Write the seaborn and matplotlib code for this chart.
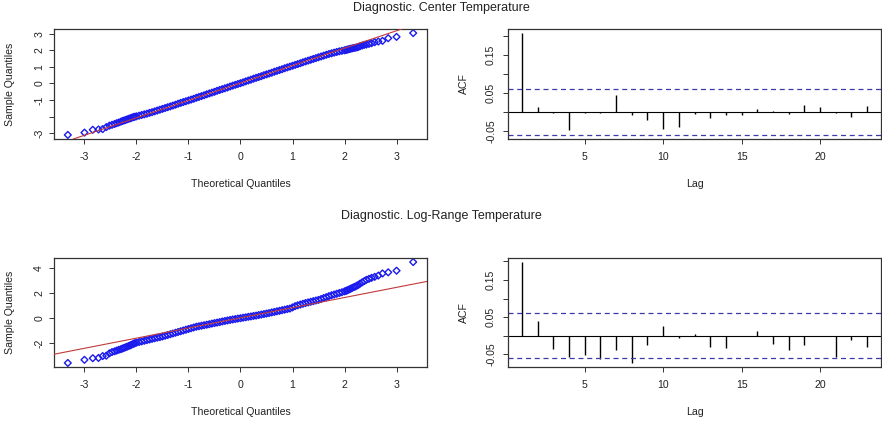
import numpy as np
import pandas as pd
import matplotlib
matplotlib.use("Agg")
import matplotlib.pyplot as plt
import seaborn as sns

# ---------------- data ----------------
title_center = "Diagnostic. Center Temperature"
title_logrange = "Diagnostic. Log-Range Temperature"

theo_left = [-3.32, -3.00, -2.84, -2.73, -2.65, -2.58, -2.52, -2.47, -2.42, -2.38, -2.34,
             -2.30, -2.27, -2.24, -2.21, -2.18, -2.15, -2.12, -2.10, -2.07, -2.05, -2.03]
theo_mid = [-2.00, -1.95, -1.90, -1.85, -1.80, -1.75, -1.70, -1.65, -1.60, -1.55,
            -1.50, -1.45, -1.40, -1.35, -1.30, -1.25, -1.20, -1.15, -1.10, -1.05,
            -1.00, -0.95, -0.90, -0.85, -0.80, -0.75, -0.70, -0.65, -0.60, -0.55,
            -0.50, -0.45, -0.40, -0.35, -0.30, -0.25, -0.20, -0.15, -0.10, -0.05,
            0.00, 0.05, 0.10, 0.15, 0.20, 0.25, 0.30, 0.35, 0.40, 0.45,
            0.50, 0.55, 0.60, 0.65, 0.70, 0.75, 0.80, 0.85, 0.90, 0.95,
            1.00, 1.05, 1.10, 1.15, 1.20, 1.25, 1.30, 1.35, 1.40, 1.45,
            1.50, 1.55, 1.60, 1.65, 1.70, 1.75, 1.80, 1.85, 1.90, 1.95,
            2.00]
theo_right = [2.03, 2.05, 2.07, 2.10, 2.12, 2.15, 2.18, 2.21, 2.24, 2.27, 2.30,
              2.34, 2.38, 2.42, 2.47, 2.52, 2.58, 2.65, 2.73, 2.84, 3.00, 3.32]

center_left = [-3.11, -2.97, -2.80, -2.78, -2.76, -2.64, -2.55, -2.50, -2.45, -2.40, -2.36,
               -2.31, -2.27, -2.24, -2.21, -2.17, -2.14, -2.11, -2.08, -2.05, -2.03, -2.01]
center_mid = [-1.99, -1.95, -1.91, -1.87, -1.83, -1.78, -1.74, -1.69, -1.64, -1.59,
              -1.54, -1.49, -1.44, -1.39, -1.34, -1.29, -1.23, -1.18, -1.13, -1.08,
              -1.03, -0.98, -0.93, -0.87, -0.82, -0.77, -0.72, -0.66, -0.61, -0.56,
              -0.51, -0.45, -0.40, -0.35, -0.30, -0.25, -0.19, -0.14, -0.09, -0.04,
              0.01, 0.06, 0.12, 0.17, 0.22, 0.28, 0.33, 0.38, 0.43, 0.49,
              0.54, 0.59, 0.64, 0.70, 0.75, 0.80, 0.85, 0.91, 0.96, 1.01,
              1.06, 1.11, 1.16, 1.21, 1.27, 1.32, 1.37, 1.42, 1.47, 1.52,
              1.57, 1.62, 1.67, 1.72, 1.77, 1.81, 1.85, 1.89, 1.93, 1.96,
              1.99]
center_right = [2.01, 2.03, 2.05, 2.07, 2.09, 2.11, 2.13, 2.15, 2.17, 2.20, 2.24,
                2.28, 2.32, 2.34, 2.38, 2.42, 2.48, 2.52, 2.56, 2.72, 2.80, 3.03]

logrange_left = [-3.57, -3.32, -3.19, -3.17, -3.02, -2.99, -2.80, -2.70, -2.64, -2.58, -2.52,
                 -2.47, -2.42, -2.37, -2.32, -2.27, -2.22, -2.17, -2.12, -2.07, -2.03, -1.99]
logrange_mid = [-1.95, -1.90, -1.85, -1.80, -1.75, -1.70, -1.65, -1.60, -1.55, -1.51,
                -1.46, -1.40, -1.34, -1.28, -1.22, -1.16, -1.10, -1.04, -0.98, -0.92,
                -0.86, -0.80, -0.74, -0.68, -0.64, -0.60, -0.56, -0.52, -0.48, -0.43,
                -0.39, -0.35, -0.31, -0.26, -0.22, -0.18, -0.14, -0.10, -0.07, -0.03,
                0.00, 0.04, 0.07, 0.11, 0.14, 0.18, 0.21, 0.25, 0.29, 0.33,
                0.37, 0.41, 0.46, 0.50, 0.55, 0.59, 0.64, 0.68, 0.73, 0.77,
                0.86, 0.96, 1.03, 1.09, 1.15, 1.21, 1.26, 1.31, 1.36, 1.41,
                1.46, 1.53, 1.61, 1.68, 1.76, 1.83, 1.89, 1.95, 2.01, 2.07,
                2.14]
logrange_right = [2.18, 2.22, 2.26, 2.31, 2.36, 2.42, 2.48, 2.53, 2.60, 2.67, 2.76,
                  2.86, 2.96, 3.06, 3.14, 3.22, 3.30, 3.40, 3.57, 3.66, 3.79, 4.48]

# qqline: (intercept, slope)
center_qqline = (0.02, 1.05)
logrange_qqline = (0.03, 0.81)

lags = [1, 2, 3, 4, 5, 6, 7, 8, 9, 10, 11, 12, 13, 14, 15, 16, 17, 18, 19, 20, 21, 22, 23]
center_acf = [0.208, 0.013, -0.002, -0.047, -0.003, -0.002, 0.045, -0.008, -0.020, -0.044,
              -0.040, -0.004, -0.015, -0.008, -0.008, 0.009, 0.004, -0.004, 0.020, 0.013,
              -0.001, -0.012, 0.016]
logrange_acf = [0.198, 0.041, -0.035, -0.056, -0.052, -0.062, -0.038, -0.073, -0.026, 0.027,
                -0.006, 0.004, -0.029, -0.033, -0.001, 0.013, -0.021, -0.037, -0.024, 0.000,
                -0.058, -0.0125, -0.030]
acf_ci = 0.060

qq_xticks = [-3, -2, -1, 0, 1, 2, 3]
center_yticks = [-3, -2, -1, 0, 1, 2, 3]
center_yticklabels = ["-3", "", "-1", "0", "1", "2", "3"]
logrange_yticks = [-2, 0, 2, 4]
logrange_yticklabels = ["-2", "0", "2", "4"]
acf_xticks = [5, 10, 15, 20]
acf_yticks = [-0.05, 0.0, 0.05, 0.10, 0.15, 0.20]
acf_yticklabels = ["-0.05", "", "0.05", "", "0.15", ""]

# ---------------- style ----------------
sns.set_theme(style="ticks")
plt.rcParams['font.family'] = ['Liberation Sans', 'DejaVu Sans']

W, H = 882, 423
fig = plt.figure(figsize=(W / 100, H / 100), dpi=100)
fig.patch.set_facecolor("white")

TXT = "#222222"
FRAME = "#333333"
FS = 7.6


def rect(x0, y0, x1, y1):
    return [x0 / W, 1 - y1 / H, (x1 - x0) / W, (y1 - y0) / H]


def r_lim(vals):
    lo, hi = min(vals), max(vals)
    d = (hi - lo) * 0.04
    return lo - d, hi + d


def style_axes(ax, h_px, ypad):
    for s in ax.spines.values():
        s.set_visible(True)
        s.set_color(FRAME)
        s.set_linewidth(0.9)
    ax.set_facecolor("white")
    ax.grid(False)
    ax.tick_params(axis="both", direction="out", length=3.6, width=0.7,
                   color=FRAME, labelcolor=TXT, labelsize=FS)
    ax.tick_params(axis="x", pad=6.0)
    ax.tick_params(axis="y", pad=ypad)
    for lbl in ax.get_yticklabels():
        lbl.set_rotation(90)
        lbl.set_va("center")
    ax.xaxis.label.set_size(FS)
    ax.yaxis.label.set_size(FS)
    ax.xaxis.label.set_color(TXT)
    ax.yaxis.label.set_color(TXT)
    ax.xaxis.set_label_coords(0.5, -45.0 / h_px)
    ax.xaxis.label.set_va("center")
    ax.yaxis.set_label_coords(-44.0 / 373.0, 0.5)
    ax.yaxis.label.set_va("center")


def qq_panel(ax, theo, sample, line, yticks, yticklabels, h_px):
    df = pd.DataFrame({"theo": theo, "sample": sample})
    sns.scatterplot(data=df, x="theo", y="sample", ax=ax, marker="D", s=12,
                    color="none", edgecolor="#1a1aee", linewidth=1.0, zorder=2)
    ax.axline((0, line[0]), slope=line[1], color="#c0393b", lw=0.8, zorder=3)
    ax.set_xlim(*r_lim(theo))
    ax.set_ylim(*r_lim(sample))
    ax.set_xticks(qq_xticks)
    ax.set_xticklabels([str(t) for t in qq_xticks])
    ax.set_yticks(yticks)
    ax.set_yticklabels(yticklabels)
    ax.set_xlabel("Theoretical Quantiles")
    ax.set_ylabel("Sample Quantiles")
    style_axes(ax, h_px, 3.5)


def acf_panel(ax, acf, h_px):
    ax.vlines(lags, 0, acf, color="black", lw=1.0, zorder=2)
    ax.axhline(0, color="black", lw=0.8, zorder=2)
    ax.axhline(acf_ci, color="#3a3aa8", lw=0.9, ls=(0, (4, 3)), zorder=2)
    ax.axhline(-acf_ci, color="#3a3aa8", lw=0.9, ls=(0, (4, 3)), zorder=2)
    ax.set_xlim(*r_lim(lags))
    ax.set_ylim(*r_lim(list(acf) + [acf_ci, -acf_ci]))
    ax.set_xticks(acf_xticks)
    ax.set_xticklabels([str(t) for t in acf_xticks])
    ax.set_yticks(acf_yticks)
    ax.set_yticklabels(acf_yticklabels)
    ax.set_xlabel("Lag")
    ax.set_ylabel("ACF")
    style_axes(ax, h_px, 5.0)


theo_q = theo_left + theo_mid + theo_right
center_sample = center_left + center_mid + center_right
logrange_sample = logrange_left + logrange_mid + logrange_right

ax1 = fig.add_axes(rect(54, 29, 427, 139))
qq_panel(ax1, theo_q, center_sample, center_qqline, center_yticks, center_yticklabels, 110)
ax2 = fig.add_axes(rect(508, 29, 881, 139))
acf_panel(ax2, center_acf, 110)
ax3 = fig.add_axes(rect(54, 258, 427, 367))
qq_panel(ax3, theo_q, logrange_sample, logrange_qqline, logrange_yticks, logrange_yticklabels, 109)
ax4 = fig.add_axes(rect(508, 258, 881, 367))
acf_panel(ax4, logrange_acf, 109)

fig.text(0.5, 1 - 8.5 / H, title_center, ha="center", va="center", fontsize=9, color=TXT)
fig.text(0.5, 1 - 216 / H, title_logrange, ha="center", va="center", fontsize=9, color=TXT)

fig.savefig("out.png", dpi=100, facecolor="white")
